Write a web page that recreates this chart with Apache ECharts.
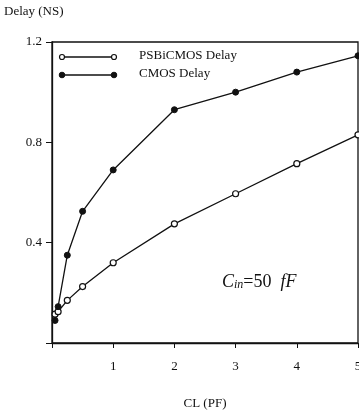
<!DOCTYPE html>
<html><head><meta charset="utf-8">
<script src="https://cdn.jsdelivr.net/npm/echarts@6/dist/echarts.min.js"></script>
<style>html,body{margin:0;padding:0;background:#fff}#c{width:359px;height:413px}</style>
</head><body><div id="c"></div>
<script>
const xTicks = [0, 1, 2, 3, 4, 5];
const yTicks = [0.4, 0.8, 1.2];
const cmosX = [0.05, 0.1, 0.25, 0.5, 1, 2, 3, 4, 5];
const cmosY = [0.09, 0.145, 0.35, 0.525, 0.69, 0.93, 1.0, 1.08, 1.145];
const psbX = [0.05, 0.1, 0.25, 0.5, 1, 2, 3, 4, 5];
const psbY = [0.115, 0.125, 0.17, 0.225, 0.32, 0.475, 0.595, 0.715, 0.83];
const seriesNames = ['PSBiCMOS Delay', 'CMOS Delay'];

const F = 'Liberation Serif, DejaVu Serif, serif';
const chart = echarts.init(document.getElementById('c'), null, {renderer: 'canvas'});
const zip = (a, b) => a.map((v, i) => [v, b[i]]);
chart.setOption({
  animation: false,
  backgroundColor: '#fff',
  grid: {left: 52, right: 1, top: 42, bottom: 70, outerBoundsMode: 'none', containLabel: false,
    show: true, borderColor: '#111', borderWidth: 1.3, backgroundColor: 'transparent'},
  xAxis: {
    type: 'value', min: 0, max: 5, interval: 1,
    name: 'CL (PF)', nameLocation: 'middle', nameGap: 54,
    nameTextStyle: {fontFamily: F, fontSize: 13, color: '#111'},
    axisLine: {lineStyle: {color: '#111', width: 1.3}},
    axisTick: {show: true, length: 5, inside: false, lineStyle: {color: '#111'}},
    axisLabel: {fontFamily: F, fontSize: 13, color: '#111', margin: 17,
      formatter: v => (xTicks.indexOf(v) > 0 ? String(v) : '')},
    splitLine: {show: false}
  },
  yAxis: {
    type: 'value', min: 0, max: 1.2, interval: 0.4,
    axisLine: {lineStyle: {color: '#111', width: 1.3}},
    axisTick: {show: true, length: 6, lineStyle: {color: '#111'}},
    axisLabel: {fontFamily: F, fontSize: 13, color: '#111', margin: 10,
      formatter: v => (yTicks.some(t => Math.abs(t - v) < 1e-6) ? v.toFixed(1) : '')},
    splitLine: {show: false}
  },
  series: [
    {name: seriesNames[0], type: 'line', data: zip(psbX, psbY), symbol: 'circle', symbolSize: 6,
     lineStyle: {color: '#111', width: 1.3},
     itemStyle: {color: '#fff', borderColor: '#111', borderWidth: 1.2}},
    {name: seriesNames[1], type: 'line', data: zip(cmosX, cmosY), symbol: 'circle', symbolSize: 6,
     lineStyle: {color: '#111', width: 1.3},
     itemStyle: {color: '#111', borderColor: '#111', borderWidth: 1}}
  ],
  graphic: [
    {type: 'text', left: 4, top: 5, style: {text: 'Delay (NS)', font: '13px ' + F, fill: '#111'}},
    {type: 'line', shape: {x1: 62, y1: 57, x2: 114, y2: 57}, style: {stroke: '#111', lineWidth: 1.3}},
    {type: 'circle', shape: {cx: 62, cy: 57, r: 2.5}, style: {fill: '#fff', stroke: '#111', lineWidth: 1.2}},
    {type: 'circle', shape: {cx: 114, cy: 57, r: 2.5}, style: {fill: '#fff', stroke: '#111', lineWidth: 1.2}},
    {type: 'text', left: 139, top: 49, style: {text: seriesNames[0], font: '13px ' + F, fill: '#111'}},
    {type: 'line', shape: {x1: 62, y1: 75, x2: 114, y2: 75}, style: {stroke: '#111', lineWidth: 1.3}},
    {type: 'circle', shape: {cx: 62, cy: 75, r: 2.8}, style: {fill: '#111', stroke: '#111', lineWidth: 1}},
    {type: 'circle', shape: {cx: 114, cy: 75, r: 2.8}, style: {fill: '#111', stroke: '#111', lineWidth: 1}},
    {type: 'text', left: 139, top: 67, style: {text: seriesNames[1], font: '13px ' + F, fill: '#111'}},
    {type: 'text', left: 222, top: 273, style: {
      text: '{i|C}{s|in}{n|=50  }{i|fF}',
      rich: {
        i: {font: 'italic 18px ' + F, fill: '#111'},
        s: {font: 'italic 12px ' + F, fill: '#111', verticalAlign: 'bottom', padding: [6, 0, 0, 0]},
        n: {font: '18px ' + F, fill: '#111'}
      }}}
  ]
});
</script></body></html>
